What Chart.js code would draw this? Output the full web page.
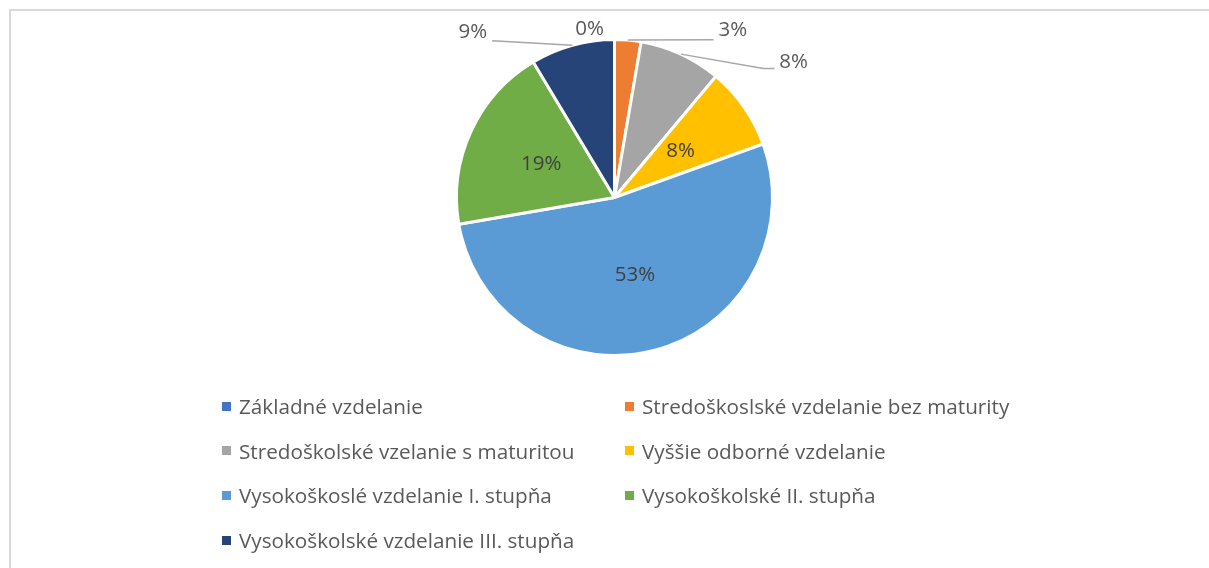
<!DOCTYPE html>
<html>
<head>
<meta charset="utf-8">
<script src="https://cdn.jsdelivr.net/npm/chart.js@4.4.1/dist/chart.umd.min.js"></script>
<style>
  html, body { margin: 0; padding: 0; background: #fff; }
  body { width: 1209px; height: 568px; position: relative; overflow: hidden; font-family: 'Open Sans', sans-serif; }
  #frame { position: absolute; left: 9px; top: 9px; width: 1300px; height: 700px; border-top: 2px solid #d9d9d9; border-left: 2px solid #d9d9d9; }
  #wrap { position: absolute; left: 0; top: 0; width: 1209px; height: 568px; }
  #legend { position: absolute; left: 222px; top: 393px; width: 820px; }
  .item { position: absolute; display: flex; align-items: center; height: 26px; font-size: 20.7px; color: #595959; white-space: nowrap; }
  .item i { display: inline-block; width: 9px; height: 9px; margin-right: 8px; }
</style>
</head>
<body>
<div id="frame"></div>
<div id="wrap"><canvas id="c" width="1209" height="568"></canvas></div>
<div id="legend"></div>
<script>
const categories = [
  'Základné vzdelanie',
  'Stredoškoslské vzdelanie bez maturity',
  'Stredoškolské vzelanie s maturitou',
  'Vyššie odborné vzdelanie',
  'Vysokoškoslé vzdelanie I. stupňa',
  'Vysokoškolské II. stupňa',
  'Vysokoškolské vzdelanie III. stupňa'
]
const shares = [0, 2.7, 8.4, 8.4, 52.8, 19.1, 8.6]
const colors = ['#4472C4', '#ED7D31', '#A5A5A5', '#FFC000', '#5B9BD5', '#70AD47', '#264478']

// where each data label sits: polar angle (deg, clockwise from top) and distance as a share of the radius
const labelSpots = [
  { angle: -8.4, dist: 1.075 },
  { angle: 35.2, dist: 1.30, leader: { side: 'left', dy: 10 } },
  { angle: 53.0, dist: 1.42, leader: { side: 'left', dy: 6, elbow: 11 } },
  { inside: true, dist: 0.51 },
  { inside: true, dist: 0.51 },
  { inside: true, dist: 0.51 },
  { angle: -40.5, dist: 1.38, leader: { side: 'right', dy: 9 } }
]

const LABEL_FONT = '20.5px "Open Sans", sans-serif'

const pieLabels = {
  id: 'pieLabels',
  afterDatasetsDraw (chart) {
    const { ctx } = chart
    const meta = chart.getDatasetMeta(0)
    const total = shares.reduce((a, b) => a + b, 0)
    ctx.save()
    ctx.font = LABEL_FONT
    ctx.textAlign = 'center'
    ctx.textBaseline = 'middle'
    meta.data.forEach((arc, i) => {
      const { x, y, startAngle, endAngle, outerRadius } = arc.getProps(['x', 'y', 'startAngle', 'endAngle', 'outerRadius'], true)
      const spot = labelSpots[i]
      const text = Math.round(shares[i] / total * 100) + '%'
      const mid = (startAngle + endAngle) / 2
      let lx, ly
      if (spot.inside) {
        lx = x + Math.cos(mid) * outerRadius * spot.dist
        ly = y + Math.sin(mid) * outerRadius * spot.dist
        ctx.fillStyle = '#404040'
      } else {
        const a = spot.angle * Math.PI / 180
        lx = x + Math.sin(a) * outerRadius * spot.dist
        ly = y - Math.cos(a) * outerRadius * spot.dist
        ctx.fillStyle = '#595959'
        if (spot.leader && shares[i] > 0) {
          const w = ctx.measureText(text).width
          const ld = spot.leader
          const ex = ld.side === 'left' ? lx - w / 2 - 5 : lx + w / 2 + 5
          const ey = ly + ld.dy
          ctx.beginPath()
          ctx.strokeStyle = '#a6a6a6'
          ctx.lineWidth = 1.5
          ctx.moveTo(x + Math.cos(mid) * outerRadius, y + Math.sin(mid) * outerRadius)
          if (ld.elbow) ctx.lineTo(ld.side === 'left' ? ex - ld.elbow : ex + ld.elbow, ey)
          ctx.lineTo(ex, ey)
          ctx.stroke()
        }
      }
      ctx.fillText(text, lx, ly)
    })
    ctx.restore()
  }
}

new Chart(document.getElementById('c'), {
  type: 'pie',
  data: {
    labels: categories,
    datasets: [{
      data: shares,
      backgroundColor: colors,
      borderColor: '#fff',
      borderWidth: 3,
      hoverOffset: 0,
      offset: 0
    }]
  },
  options: {
    responsive: false,
    animation: false,
    events: [],
    radius: 158,
    layout: { padding: { left: 40, right: 20, top: 20, bottom: 193 } },
    plugins: { legend: { display: false }, tooltip: { enabled: false } }
  },
  plugins: [pieLabels]
})

const legend = document.getElementById('legend')
categories.forEach((name, i) => {
  const el = document.createElement('div')
  el.className = 'item'
  el.style.left = (i % 2 ? 403 : 0) + 'px'
  el.style.top = (Math.floor(i / 2) * 44.7) + 'px'
  el.innerHTML = `<i style="background:${colors[i]}"></i>${name}`
  legend.appendChild(el)
})
</script>
</body>
</html>
